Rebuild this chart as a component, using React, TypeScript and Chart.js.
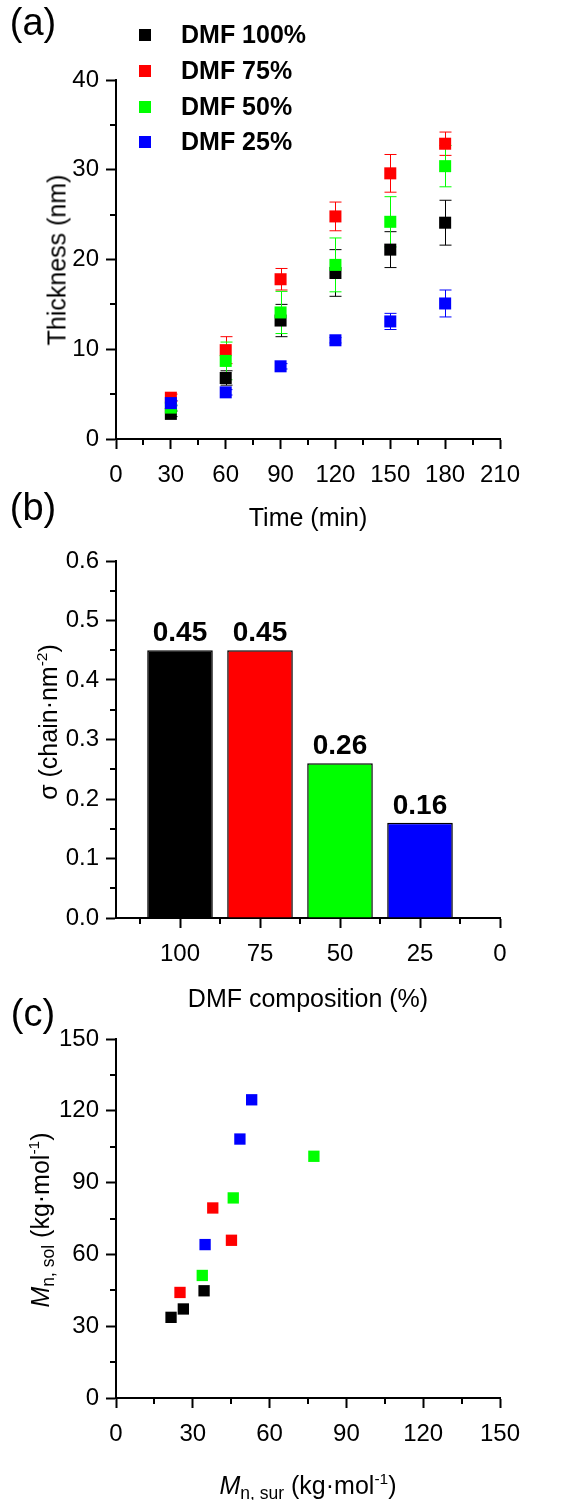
import React, { useEffect, useRef } from "react";
import { Chart, registerables } from "chart.js";

Chart.register(...registerables);

const FONT = "'Liberation Sans', Arial, Helvetica, sans-serif";

// ---------- Panel (a): thickness vs time ----------
const TIME_MIN = [30, 60, 90, 120, 150, 180];
const SERIES_LABELS = ["DMF 100%", "DMF 75%", "DMF 50%", "DMF 25%"];
const SERIES_COLORS = ["#000000", "#ff0000", "#00ff00", "#0000ff"];
const THICK_DMF100 = [2.8, 6.8, 13.2, 18.5, 21.1, 24.1];
const ERR_DMF100 = [0.3, 0.8, 1.8, 2.6, 2.0, 2.5];
const THICK_DMF75 = [4.6, 9.9, 17.8, 24.8, 29.6, 32.9];
const ERR_DMF75 = [0.4, 1.5, 1.2, 1.6, 2.1, 1.3];
const THICK_DMF50 = [3.5, 8.7, 14.1, 19.4, 24.2, 30.4];
const ERR_DMF50 = [0.3, 2.1, 2.35, 3.0, 2.8, 2.3];
const THICK_DMF25 = [4.0, 5.2, 8.1, 11.0, 13.1, 15.1];
const ERR_DMF25 = [0.3, 0.3, 0.3, 0.3, 0.9, 1.5];
const A_X_TICKS = [0, 30, 60, 90, 120, 150, 180, 210];
const A_X_MINOR = [15, 45, 75, 105, 135, 165, 195];
const A_Y_TICKS = [0, 10, 20, 30, 40];
const A_Y_MINOR = [5, 15, 25, 35];

// ---------- Panel (b): grafting density ----------
const COMPOSITION = [100, 75, 50, 25];
const GRAFT_DENSITY = [0.45, 0.45, 0.26, 0.16];
const B_X_TICKS = [0, 25, 50, 75, 100];
const B_X_MINOR = [12.5, 37.5, 62.5, 87.5, 112.5];
const B_Y_TICKS = [0, 0.1, 0.2, 0.3, 0.4, 0.5, 0.6];
const B_Y_MINOR = [0.05, 0.15, 0.25, 0.35, 0.45, 0.55];

// ---------- Panel (c): Mn,sol vs Mn,sur ----------
const MSUR_DMF100 = [21.5, 26.3, 34.4];
const MSOL_DMF100 = [33.7, 37.2, 44.8];
const MSUR_DMF75 = [25.0, 37.8, 45.1];
const MSOL_DMF75 = [44.1, 79.4, 65.9];
const MSUR_DMF50 = [33.7, 45.8, 77.3];
const MSOL_DMF50 = [51.2, 83.6, 101.0];
const MSUR_DMF25 = [34.8, 48.4, 53.0];
const MSOL_DMF25 = [64.1, 108.2, 124.6];
const C_TICKS = [0, 30, 60, 90, 120, 150];
const C_MINOR = [15, 45, 75, 105, 135];

const minorTicksPlugin = {
  id: "minorTicks",
  afterDraw(chart: any, _args: any, opts: any) {
    const { ctx, chartArea, scales } = chart;
    ctx.save();
    ctx.strokeStyle = "#000";
    ctx.lineWidth = 2;
    (opts.x || []).forEach((v: number) => {
      const px = Math.round(scales.x.getPixelForValue(v));
      ctx.beginPath();
      ctx.moveTo(px, chartArea.bottom);
      ctx.lineTo(px, chartArea.bottom + 6);
      ctx.stroke();
    });
    (opts.y || []).forEach((v: number) => {
      const py = Math.round(scales.y.getPixelForValue(v));
      ctx.beginPath();
      ctx.moveTo(chartArea.left, py);
      ctx.lineTo(chartArea.left - 6, py);
      ctx.stroke();
    });
    ctx.restore();
  },
};

const errorBarPlugin = {
  id: "errorBars",
  beforeDatasetsDraw(chart: any, _args: any, opts: any) {
    const errs: number[][] = opts.errors || [];
    const { ctx, scales } = chart;
    ctx.save();
    ctx.lineWidth = 1;
    chart.data.datasets.forEach((ds: any, i: number) => {
      const e = errs[i];
      if (!e) return;
      ctx.strokeStyle = ds.borderColor;
      ds.data.forEach((p: any, j: number) => {
        const x = Math.round(scales.x.getPixelForValue(p.x)) + 0.5;
        const yt = scales.y.getPixelForValue(p.y + e[j]);
        const yb = scales.y.getPixelForValue(p.y - e[j]);
        ctx.beginPath();
        ctx.moveTo(x, yt);
        ctx.lineTo(x, yb);
        ctx.moveTo(x - 6, yt);
        ctx.lineTo(x + 6, yt);
        ctx.moveTo(x - 6, yb);
        ctx.lineTo(x + 6, yb);
        ctx.stroke();
      });
    });
    ctx.restore();
  },
};

const swatchLegendPlugin = {
  id: "swatchLegend",
  afterDraw(chart: any, _args: any, opts: any) {
    if (!opts.ys) return;
    const { ctx } = chart;
    ctx.save();
    ctx.font = `bold ${opts.fontSize}px ${FONT}`;
    ctx.textBaseline = "middle";
    chart.data.datasets.forEach((ds: any, i: number) => {
      const y = opts.ys[i];
      ctx.fillStyle = ds.backgroundColor;
      ctx.fillRect(opts.x - opts.size / 2, y - opts.size / 2, opts.size, opts.size);
      ctx.fillStyle = "#000";
      ctx.fillText(ds.label, opts.textX, y + 1);
    });
    ctx.restore();
  },
};

const barValuePlugin = {
  id: "barValues",
  afterDatasetsDraw(chart: any, _args: any, opts: any) {
    if (!opts.show) return;
    const { ctx } = chart;
    ctx.save();
    ctx.font = `bold ${opts.fontSize}px ${FONT}`;
    ctx.textAlign = "center";
    ctx.textBaseline = "bottom";
    ctx.fillStyle = "#000";
    chart.data.datasets.forEach((ds: any, i: number) => {
      const meta = chart.getDatasetMeta(i);
      meta.data.forEach((el: any, j: number) => {
        ctx.fillText(ds.data[j].y.toFixed(2), el.x, el.y - 3);
      });
    });
    ctx.restore();
  },
};

function axis(min: number, max: number, ticks: number[], isY: boolean, fit: number, fmt: (v: number) => string, reverse = false) {
  return {
    type: "linear",
    min,
    max,
    reverse,
    offset: false,
    afterBuildTicks: (s: any) => {
      s.ticks = ticks.map((v) => ({ value: v }));
    },
    afterFit: (s: any) => {
      if (isY) s.width = fit;
      else s.height = fit;
    },
    ticks: {
      color: "#000",
      font: { family: FONT, size: 24 },
      padding: isY ? 7 : 12,
      autoSkip: false,
      maxRotation: 0,
      minRotation: 0,
      callback: (v: any) => fmt(Number(v)),
    },
    grid: {
      display: true,
      offset: false,
      drawOnChartArea: false,
      drawTicks: true,
      tickLength: 10,
      tickWidth: 2,
      tickColor: "#000",
      color: "#000",
    },
    border: { display: true, color: "#000", width: 2 },
    title: { display: false },
  };
}

const intFmt = (v: number) => String(Math.round(v));

function pts(xs: number[], ys: number[]) {
  return xs.map((x, i) => ({ x, y: ys[i] }));
}

const Label = ({ x, y, size, rotate, bold, children }: any) => (
  <div
    style={{
      position: "absolute",
      left: x,
      top: y,
      transform: `translate(-50%, -50%)${rotate ? " rotate(-90deg)" : ""}`,
      fontSize: size,
      fontWeight: bold ? "bold" : "normal",
      whiteSpace: "nowrap",
      lineHeight: 1,
      fontFamily: FONT,
      color: "#000",
    }}
  >
    {children}
  </div>
);

const Sup = ({ children }: any) => (
  <span style={{ fontSize: "0.62em", verticalAlign: "0.62em", lineHeight: 0 }}>{children}</span>
);
const Sub = ({ children }: any) => (
  <span style={{ fontSize: "0.7em", verticalAlign: "-0.3em", lineHeight: 0 }}>{children}</span>
);

export default function App() {
  const refA = useRef<HTMLCanvasElement>(null);
  const refB = useRef<HTMLCanvasElement>(null);
  const refC = useRef<HTMLCanvasElement>(null);

  useEffect(() => {
    const charts: Chart[] = [];
    const thick = [THICK_DMF100, THICK_DMF75, THICK_DMF50, THICK_DMF25];
    const errs = [ERR_DMF100, ERR_DMF75, ERR_DMF50, ERR_DMF25];

    if (refA.current) {
      charts.push(
        new Chart(refA.current, {
          type: "scatter",
          data: {
            datasets: thick.map((vals, i) => ({
              label: SERIES_LABELS[i],
              data: pts(TIME_MIN, vals),
              backgroundColor: SERIES_COLORS[i],
              borderColor: SERIES_COLORS[i],
              borderWidth: 0,
              pointStyle: "rect",
              pointRadius: 8.5,
              pointHoverRadius: 8.5,
              order: 4 - i,
            })),
          },
          options: {
            animation: false,
            responsive: false,
            devicePixelRatio: 1,
            layout: { padding: { top: 80, right: 79, left: 0, bottom: 0 } },
            plugins: {
              legend: { display: false },
              tooltip: { enabled: false },
              minorTicks: { x: A_X_MINOR, y: A_Y_MINOR },
              errorBars: { errors: errs },
              swatchLegend: { x: 145, ys: [35, 71, 107, 142], textX: 181, size: 12, fontSize: 25 },
            } as any,
            scales: {
              x: axis(0, 210, A_X_TICKS, false, 51, intFmt) as any,
              y: axis(0, 40, A_Y_TICKS, true, 116, intFmt) as any,
            },
          },
          plugins: [minorTicksPlugin, errorBarPlugin, swatchLegendPlugin],
        })
      );
    }

    if (refB.current) {
      charts.push(
        new Chart(refB.current, {
          type: "bar",
          data: {
            datasets: [
              {
                label: "sigma",
                data: pts(COMPOSITION, GRAFT_DENSITY) as any,
                backgroundColor: SERIES_COLORS,
                borderColor: "#000",
                borderWidth: 1.5,
                barPercentage: 0.82,
                categoryPercentage: 1,
              },
            ],
          },
          options: {
            animation: false,
            responsive: false,
            devicePixelRatio: 1,
            layout: { padding: { top: 71, right: 79, left: 0, bottom: 0 } },
            plugins: {
              legend: { display: false },
              tooltip: { enabled: false },
              minorTicks: { x: B_X_MINOR, y: B_Y_MINOR },
              barValues: { show: true, fontSize: 28 },
            } as any,
            scales: {
              x: axis(0, 120, B_X_TICKS, false, 57, intFmt, true) as any,
              y: axis(0, 0.6, B_Y_TICKS, true, 116, (v) => v.toFixed(1)) as any,
            },
          },
          plugins: [minorTicksPlugin, barValuePlugin],
        })
      );
    }

    if (refC.current) {
      const xs = [MSUR_DMF100, MSUR_DMF75, MSUR_DMF50, MSUR_DMF25];
      const ys = [MSOL_DMF100, MSOL_DMF75, MSOL_DMF50, MSOL_DMF25];
      charts.push(
        new Chart(refC.current, {
          type: "scatter",
          data: {
            datasets: xs.map((x, i) => ({
              label: SERIES_LABELS[i],
              data: pts(x, ys[i]),
              backgroundColor: SERIES_COLORS[i],
              borderColor: SERIES_COLORS[i],
              borderWidth: 0,
              pointStyle: "rect",
              pointRadius: 8,
              pointHoverRadius: 8,
              order: 4 - i,
            })),
          },
          options: {
            animation: false,
            responsive: false,
            devicePixelRatio: 1,
            layout: { padding: { top: 64, right: 79, left: 0, bottom: 0 } },
            plugins: {
              legend: { display: false },
              tooltip: { enabled: false },
              minorTicks: { x: C_MINOR, y: C_MINOR },
            } as any,
            scales: {
              x: axis(0, 150, C_TICKS, false, 102, intFmt) as any,
              y: axis(0, 150, C_TICKS, true, 116, intFmt) as any,
            },
          },
          plugins: [minorTicksPlugin],
        })
      );
    }

    return () => charts.forEach((c) => c.destroy());
  }, []);

  return (
    <div style={{ position: "absolute", left: 0, top: 0, width: 579, height: 1500, background: "#fff", overflow: "hidden" }}>
      <canvas ref={refA} width={579} height={490} style={{ position: "absolute", left: 0, top: 0 }} />
      <canvas ref={refB} width={579} height={485} style={{ position: "absolute", left: 0, top: 490 }} />
      <canvas ref={refC} width={579} height={525} style={{ position: "absolute", left: 0, top: 975 }} />

      <Label x={33} y={22} size={38}>(a)</Label>
      <Label x={33} y={507} size={38}>(b)</Label>
      <Label x={33} y={1013} size={38}>(c)</Label>

      <Label x={308} y={517} size={25}>Time (min)</Label>
      <Label x={57} y={260} size={25} rotate>Thickness (nm)</Label>

      <Label x={308} y={998} size={25}>DMF composition (%)</Label>
      <Label x={48} y={722} size={25} rotate>
        σ (chain·nm<Sup>-2</Sup>)
      </Label>

      <Label x={308} y={1485} size={25}>
        <i>M</i>
        <Sub>n, sur</Sub> (kg·mol<Sup>-1</Sup>)
      </Label>
      <Label x={40} y={1220} size={25} rotate>
        <i>M</i>
        <Sub>n, sol</Sub> (kg·mol<Sup>-1</Sup>)
      </Label>
    </div>
  );
}
